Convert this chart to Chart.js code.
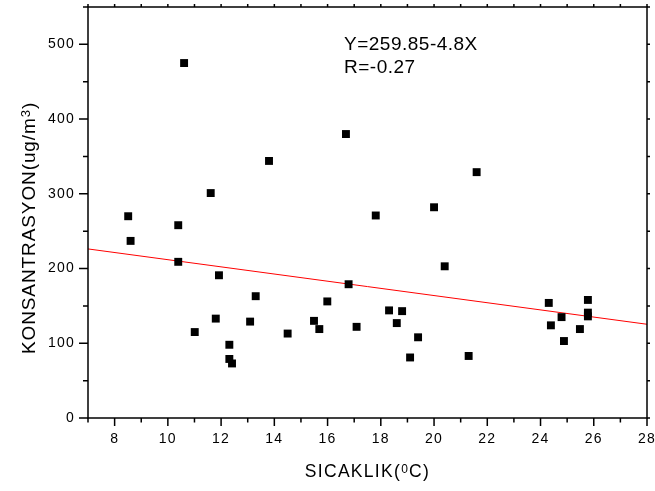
<!DOCTYPE html>
<html>
<head>
<meta charset="utf-8">
<script src="https://cdn.jsdelivr.net/npm/chart.js@4/dist/chart.umd.min.js"></script>
<style>
  html, body { margin: 0; padding: 0; background: #ffffff; }
  #wrap { width: 655px; height: 491px; position: relative; }
</style>
</head>
<body>
<div id="wrap"><canvas id="c"></canvas></div>
<script>
// ---- data ----
const temperature = [8.51, 8.60, 10.39, 10.39, 10.61, 11.01, 11.61, 11.80, 11.92, 12.31,
                     12.31, 12.41, 13.09, 13.30, 13.80, 14.50, 15.49, 15.69, 15.99, 16.69,
                     16.79, 17.09, 17.81, 18.31, 18.60, 18.80, 19.10, 19.40, 20.00, 20.40,
                     21.30, 21.60, 24.31, 24.39, 24.79, 24.88, 25.48, 25.78, 25.78, 25.78];
const concentration = [270, 237, 258, 209, 475, 115, 301, 133, 191, 98,
                       79, 73, 129, 163, 344, 113, 130, 119, 156, 380,
                       179, 122, 271, 144, 127, 143, 81, 108, 282, 203,
                       83, 329, 154, 124, 135, 103, 119, 158, 141, 136];
const fitLineX = [7, 28];
const fitLineY = [226.25, 125.45];
const xTickValues = [8, 10, 12, 14, 16, 18, 20, 22, 24, 26, 28];
const yTickValues = [0, 100, 200, 300, 400, 500];
const xTitleMain = 'SICAKLIK(';
const xTitleSup = '0';
const xTitleEnd = 'C)';
const yTitleMain = 'KONSANTRASYON(ug/m';
const yTitleSup = '3';
const yTitleEnd = ')';
const annotationLines = ['Y=259.85-4.8X', 'R=-0.27'];

const FONT = "'Liberation Sans', Arial, Helvetica, sans-serif";
Chart.defaults.font.family = FONT;
Chart.defaults.color = '#000';

const X_MIN = 7, X_MAX = 28, Y_MIN = 0, Y_MAX = 550;

const framePlugin = {
  id: 'frame',
  beforeDraw(chart) {
    chart.ctx.letterSpacing = '1.2px';
  },
  afterDraw(chart) {
    const ctx = chart.ctx;
    const a = chart.chartArea;
    const xs = chart.scales.x, ys = chart.scales.y;
    ctx.save();
    ctx.strokeStyle = '#000';
    ctx.lineWidth = 1.5;
    ctx.lineCap = 'butt';
    // frame
    ctx.strokeRect(a.left, a.top, a.right - a.left, a.bottom - a.top);
    ctx.beginPath();
    // y ticks
    for (let v = Y_MIN; v <= Y_MAX + 1e-9; v += 50) {
      const py = ys.getPixelForValue(v);
      const len = (v % 100 === 0) ? 9 : 5;
      ctx.moveTo(a.left, py); ctx.lineTo(a.left - len, py);
      ctx.moveTo(a.right, py); ctx.lineTo(a.right + 3, py);
    }
    // x ticks
    for (let v = X_MIN; v <= X_MAX + 1e-9; v += 1) {
      const px = xs.getPixelForValue(v);
      const len = (v % 2 === 0) ? 8 : 4.5;
      ctx.moveTo(px, a.bottom); ctx.lineTo(px, a.bottom + len);
      ctx.moveTo(px, a.top); ctx.lineTo(px, a.top - 3);
    }
    ctx.stroke();

    // annotation
    ctx.fillStyle = '#000';
    ctx.letterSpacing = '0.5px';
    ctx.font = '19px ' + FONT;
    ctx.textAlign = 'left';
    ctx.textBaseline = 'alphabetic';
    ctx.fillText(annotationLines[0], 344, 50);
    ctx.fillText(annotationLines[1], 344, 73);

    // x title
    ctx.letterSpacing = '1.3px';
    const mainF = '17.5px ' + FONT, supF = '12px ' + FONT;
    ctx.font = mainF; const w1 = ctx.measureText(xTitleMain).width;
    const w3 = ctx.measureText(xTitleEnd).width;
    ctx.font = supF; const w2 = ctx.measureText(xTitleSup).width;
    const cx = (a.left + a.right) / 2;
    let sx = cx - (w1 + w2 + w3) / 2;
    const by = 477;
    ctx.font = mainF; ctx.fillText(xTitleMain, sx, by);
    ctx.font = supF; ctx.fillText(xTitleSup, sx + w1, by - 4);
    ctx.font = mainF; ctx.fillText(xTitleEnd, sx + w1 + w2, by);

    // y title (rotated)
    ctx.save();
    ctx.translate(35, 228);
    ctx.rotate(-Math.PI / 2);
    ctx.letterSpacing = '0.9px';
    const yMainF = '19px ' + FONT, ySupF = '13px ' + FONT;
    ctx.font = yMainF; const v1 = ctx.measureText(yTitleMain).width;
    const v3 = ctx.measureText(yTitleEnd).width;
    ctx.font = ySupF; const v2 = ctx.measureText(yTitleSup).width;
    let s = -(v1 + v2 + v3) / 2;
    ctx.font = yMainF; ctx.fillText(yTitleMain, s, 0);
    ctx.font = ySupF; ctx.fillText(yTitleSup, s + v1, -5);
    ctx.font = yMainF; ctx.fillText(yTitleEnd, s + v1 + v2, 0);
    ctx.restore();

    ctx.restore();
  }
};

const points = temperature.map((t, i) => ({ x: t, y: concentration[i] }));
const fitPoints = fitLineX.map((t, i) => ({ x: t, y: fitLineY[i] }));

new Chart(document.getElementById('c'), {
  type: 'scatter',
  data: {
    datasets: [
      {
        label: 'fit',
        type: 'line',
        data: fitPoints,
        borderColor: '#ff0000',
        borderWidth: 1,
        pointRadius: 0,
        fill: false,
        tension: 0,
        order: 2
      },
      {
        label: 'data',
        data: points,
        pointStyle: 'rect',
        pointRadius: 5.6,
        pointHoverRadius: 5.6,
        backgroundColor: '#000',
        borderWidth: 0,
        order: 1
      }
    ]
  },
  options: {
    responsive: true,
    maintainAspectRatio: false,
    animation: false,
    devicePixelRatio: 1,
    layout: { padding: { top: 7, right: 8, left: 0, bottom: 0 } },
    plugins: { legend: { display: false }, tooltip: { enabled: false } },
    scales: {
      x: {
        type: 'linear',
        position: 'bottom',
        min: X_MIN, max: X_MAX,
        grid: { display: false, drawTicks: false },
        border: { display: false },
        ticks: { font: { size: 14 }, color: '#000', padding: 13, maxRotation: 0, autoSkip: false },
        afterBuildTicks: (s) => { s.ticks = xTickValues.map(v => ({ value: v })); },
        afterFit: (s) => { s.height = 73; s.paddingLeft = 0; s.paddingRight = 0; }
      },
      y: {
        type: 'linear',
        position: 'left',
        min: Y_MIN, max: Y_MAX,
        grid: { display: false, drawTicks: false },
        border: { display: false },
        ticks: { font: { size: 14 }, color: '#000', padding: 13, autoSkip: false },
        afterBuildTicks: (s) => { s.ticks = yTickValues.map(v => ({ value: v })); },
        afterFit: (s) => { s.width = 88; s.paddingTop = 0; s.paddingBottom = 0; }
      }
    }
  },
  plugins: [framePlugin]
});
</script>
</body>
</html>
